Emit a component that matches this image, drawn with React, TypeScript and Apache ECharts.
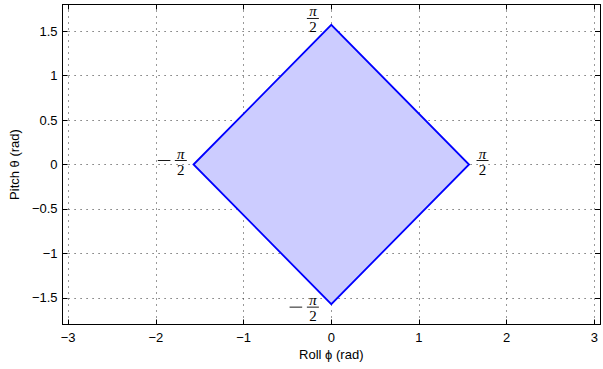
import React, { useEffect, useRef } from "react";
import * as echarts from "echarts";

const HALF_PI = Math.PI / 2;
// Diamond vertices (roll, pitch) in radians
const vertexRoll = [-HALF_PI, 0, HALF_PI, 0];
const vertexPitch = [0, HALF_PI, 0, -HALF_PI];
// Axis ranges
const rollRange = [-3.064, 3.064];
const pitchRange = [-1.8, 1.8];
// Texts
const xAxisName = "Roll ϕ (rad)";
const yAxisName = "Pitch θ (rad)";
const fracNumerator = "π";
const fracDenominator = "2";

const SANS = '"Liberation Sans", Arial, Helvetica, sans-serif';
const SERIF = '"Liberation Serif", "DejaVu Serif", serif';

// label placement (pixel offsets from the vertex), by vertex index
const labelPlacement = [
  { dx: -12.7, dy: -4, minus: -29.4 }, // left
  { dx: -18.4, dy: -6.4, minus: 0 }, // top
  { dx: 13.5, dy: -4, minus: 0 }, // right
  { dx: -18.4, dy: 3, minus: -35.4 }, // bottom
];

const fmt = (v: number) => {
  if (Math.abs(v * 2 - Math.round(v * 2)) > 1e-6) return "";
  const s = String(Math.round(v * 2) / 2);
  return s.replace("-", "\u2212");
};

export default function App() {
  const ref = useRef<HTMLDivElement>(null);
  useEffect(() => {
    if (!ref.current) return;
    const chart = echarts.init(ref.current, undefined, { renderer: "svg" });
    const points = vertexRoll.map((r, i) => [r, vertexPitch[i]]);

    const axisLine = { show: true, onZero: false, lineStyle: { color: "#000", width: 1 } };
    const axisTick = { show: true, inside: true, length: 5, lineStyle: { color: "#000", width: 1 } };
    const splitLine = { show: true, lineStyle: { color: "#333", width: 1, type: [1, 5] } };

    chart.setOption({
      animation: false,
      grid: { left: 59, top: 4.5, width: 545.4, height: 320, containLabel: false },
      xAxis: [
        {
          type: "value",
          position: "bottom",
          min: rollRange[0],
          max: rollRange[1],
          splitNumber: 6,
          axisLine,
          axisTick,
          splitLine,
          axisLabel: { margin: 6, formatter: fmt, fontSize: 13, color: "#000", fontFamily: SANS },
          name: xAxisName,
          nameLocation: "middle",
          nameGap: 21,
          nameTextStyle: { fontSize: 13, color: "#000", fontFamily: SANS },
        },
        {
          type: "value",
          position: "top",
          min: rollRange[0],
          max: rollRange[1],
          splitNumber: 6,
          axisLine,
          axisTick,
          splitLine: { show: false },
          axisLabel: { show: false },
        },
      ],
      yAxis: [
        {
          type: "value",
          position: "left",
          min: pitchRange[0],
          max: pitchRange[1],
          splitNumber: 7,
          axisLine,
          axisTick,
          splitLine,
          axisLabel: { margin: 5, formatter: fmt, fontSize: 13, color: "#000", fontFamily: SANS },
          name: yAxisName,
          nameLocation: "middle",
          nameGap: 40,
          nameTextStyle: { fontSize: 13, color: "#000", fontFamily: SANS },
        },
        {
          type: "value",
          position: "right",
          min: pitchRange[0],
          max: pitchRange[1],
          splitNumber: 7,
          axisLine,
          axisTick,
          splitLine: { show: false },
          axisLabel: { show: false },
        },
      ],
      series: [
        {
          type: "custom",
          xAxisIndex: 0,
          yAxisIndex: 0,
          silent: true,
          clip: true,
          data: points,
          renderItem: (params: any, api: any) => {
            if (params.dataIndex !== 0) return { type: "group", children: [] };
            const pts = points.map((p) => api.coord(p));
            return {
              type: "polygon",
              shape: { points: pts },
              style: { fill: "#ccccff", stroke: "#0000ff", lineWidth: 1.8, lineJoin: "miter" },
            };
          },
        },
        {
          type: "custom",
          xAxisIndex: 0,
          yAxisIndex: 0,
          silent: true,
          clip: false,
          z: 5,
          data: points,
          renderItem: (params: any, api: any) => {
            const i = params.dataIndex;
            const rv = api.value(0);
            const pv = api.value(1);
            const [px, py] = api.coord([rv, pv]);
            const pl = labelPlacement[i];
            const cx = px + pl.dx;
            const by = py + pl.dy;
            const children: any[] = [
              {
                type: "text",
                x: cx,
                y: by - 7,
                style: {
                  text: fracNumerator,
                  fill: "#000",
                  font: `italic 15px ${SERIF}`,
                  align: "center",
                  verticalAlign: "middle",
                },
              },
              {
                type: "line",
                shape: { x1: cx - 6, y1: by, x2: cx + 6, y2: by },
                style: { stroke: "#000", lineWidth: 0.9 },
              },
              {
                type: "text",
                x: cx,
                y: by + 9,
                style: {
                  text: fracDenominator,
                  fill: "#000",
                  font: `15px ${SERIF}`,
                  align: "center",
                  verticalAlign: "middle",
                },
              },
            ];
            if (rv < 0 || pv < 0) {
              const mx = px + pl.minus;
              children.push({
                type: "line",
                shape: { x1: mx - 6.3, y1: by, x2: mx + 6.3, y2: by },
                style: { stroke: "#000", lineWidth: 0.9 },
              });
            }
            return { type: "group", children };
          },
        },
      ],
    });
    return () => chart.dispose();
  }, []);
  return (
    <div
      ref={ref}
      style={{ position: "absolute", left: 0, top: 0, width: 603, height: 369, background: "#fff" }}
    />
  );
}
